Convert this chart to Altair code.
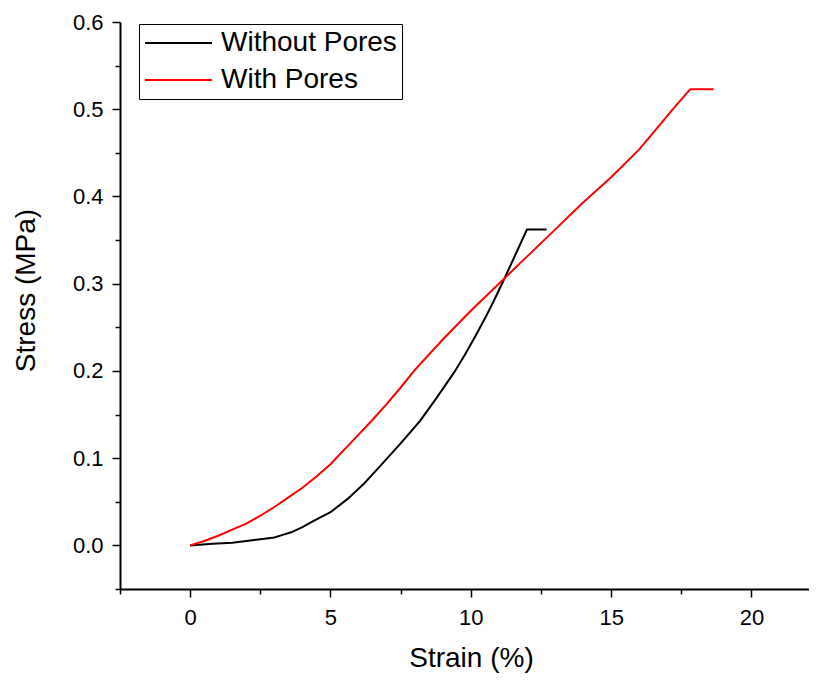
import altair as alt
import pandas as pd

# Without Pores (black)
strain_without = [0, 0.8, 1.5, 2.0, 2.5, 3.0, 3.3, 3.6, 4.0, 4.4, 5.0, 5.6, 6.2, 6.8, 7.5, 8.2, 8.8, 9.4, 9.8, 10.2, 10.5, 10.8, 11.2, 11.6, 12.0, 12.7]
stress_without = [0, 0.002, 0.003, 0.005, 0.007, 0.009, 0.012, 0.015, 0.021, 0.028, 0.038, 0.053, 0.071, 0.092, 0.117, 0.143, 0.170, 0.198, 0.219, 0.242, 0.260, 0.279, 0.306, 0.334, 0.362, 0.362]

# With Pores (red)
strain_with = [0, 0.5, 1, 1.5, 2, 2.5, 3, 3.5, 4, 4.5, 5, 5.5, 6, 6.5, 7, 7.5, 8, 9, 10, 11, 12, 13, 14, 15, 16, 16.6, 17.2, 17.82, 18.65]
stress_with = [0, 0.005, 0.011, 0.018, 0.025, 0.034, 0.044, 0.055, 0.066, 0.079, 0.093, 0.110, 0.127, 0.144, 0.162, 0.181, 0.201, 0.236, 0.269, 0.300, 0.331, 0.362, 0.393, 0.422, 0.454, 0.477, 0.500, 0.523, 0.523]

series_names = ["Without Pores", "With Pores"]
series_colors = ["#000000", "#ff0000"]

x_ticks = [-2.5, 0, 2.5, 5, 7.5, 10, 12.5, 15, 17.5, 20]
y_ticks = [-0.05, 0, 0.05, 0.1, 0.15, 0.2, 0.25, 0.3, 0.35, 0.4, 0.45, 0.5, 0.55, 0.6]

rows = []
for i, (x, y) in enumerate(zip(strain_without, stress_without)):
    rows.append({"series": series_names[0], "strain": x, "stress": y, "idx": i})
for i, (x, y) in enumerate(zip(strain_with, stress_with)):
    rows.append({"series": series_names[1], "strain": x, "stress": y, "idx": i})
df = pd.DataFrame(rows)

FONT = "Liberation Sans"

x_major = "abs(datum.value / 5 - round(datum.value / 5)) < 0.001"
y_major = "abs(datum.value * 10 - round(datum.value * 10)) < 0.001"

chart = alt.Chart(df).mark_line(strokeWidth=2).encode(
    x=alt.X(
        "strain:Q",
        scale=alt.Scale(domain=[-2.5, 22.05], nice=False, zero=False),
        axis=alt.Axis(
            title="Strain (%)",
            values=x_ticks,
            labelExpr=f"({x_major}) ? format(datum.value, 'd') : ''",
            tickSize={"condition": {"test": x_major, "value": 8}, "value": 5},
            labelPadding=10,
            titleX=351,
            titleY=77,
            titleBaseline="alphabetic",
            titleAlign="center",
        ),
    ),
    y=alt.Y(
        "stress:Q",
        scale=alt.Scale(domain=[-0.05, 0.6], nice=False, zero=False),
        axis=alt.Axis(
            title="Stress (MPa)",
            values=y_ticks,
            labelExpr=f"({y_major}) ? format(datum.value, '.1f') : ''",
            tickSize={"condition": {"test": y_major, "value": 8}, "value": 5},
            labelPadding=9,
            titleAngle=270,
            titleX=-86,
            titleY=268,
            titleBaseline="alphabetic",
            titleAlign="center",
        ),
    ),
    color=alt.Color(
        "series:N",
        scale=alt.Scale(domain=series_names, range=series_colors),
        legend=alt.Legend(
            title=None,
            orient="none",
            legendX=19,
            legendY=2,
            symbolType="stroke",
            symbolSize=4489,
            symbolStrokeWidth=2,
            clipHeight=28,
            labelFontSize=28,
            labelFont=FONT,
            labelLimit=0,
            labelOffset=8,
            rowPadding=9,
            padding=5,
            strokeColor="#000000",
            fillColor="#ffffff",
        ),
    ),
    order=alt.Order("idx:Q"),
).properties(
    width=689,
    height=567,
    autosize=alt.AutoSizeParams(type="none"),
    padding={"left": 112, "top": 14, "right": 0, "bottom": 84},
).configure_axis(
    grid=False,
    domainColor="#000000",
    domainWidth=2,
    tickColor="#000000",
    tickWidth=1.5,
    labelFont=FONT,
    labelFontSize=22,
    labelColor="#000000",
    titleFont=FONT,
    titleFontSize=28,
    titleFontWeight="normal",
    titleColor="#000000",
).configure_view(
    stroke=None
)

chart.save("out.html", embed_options={"renderer": "svg", "actions": False})
